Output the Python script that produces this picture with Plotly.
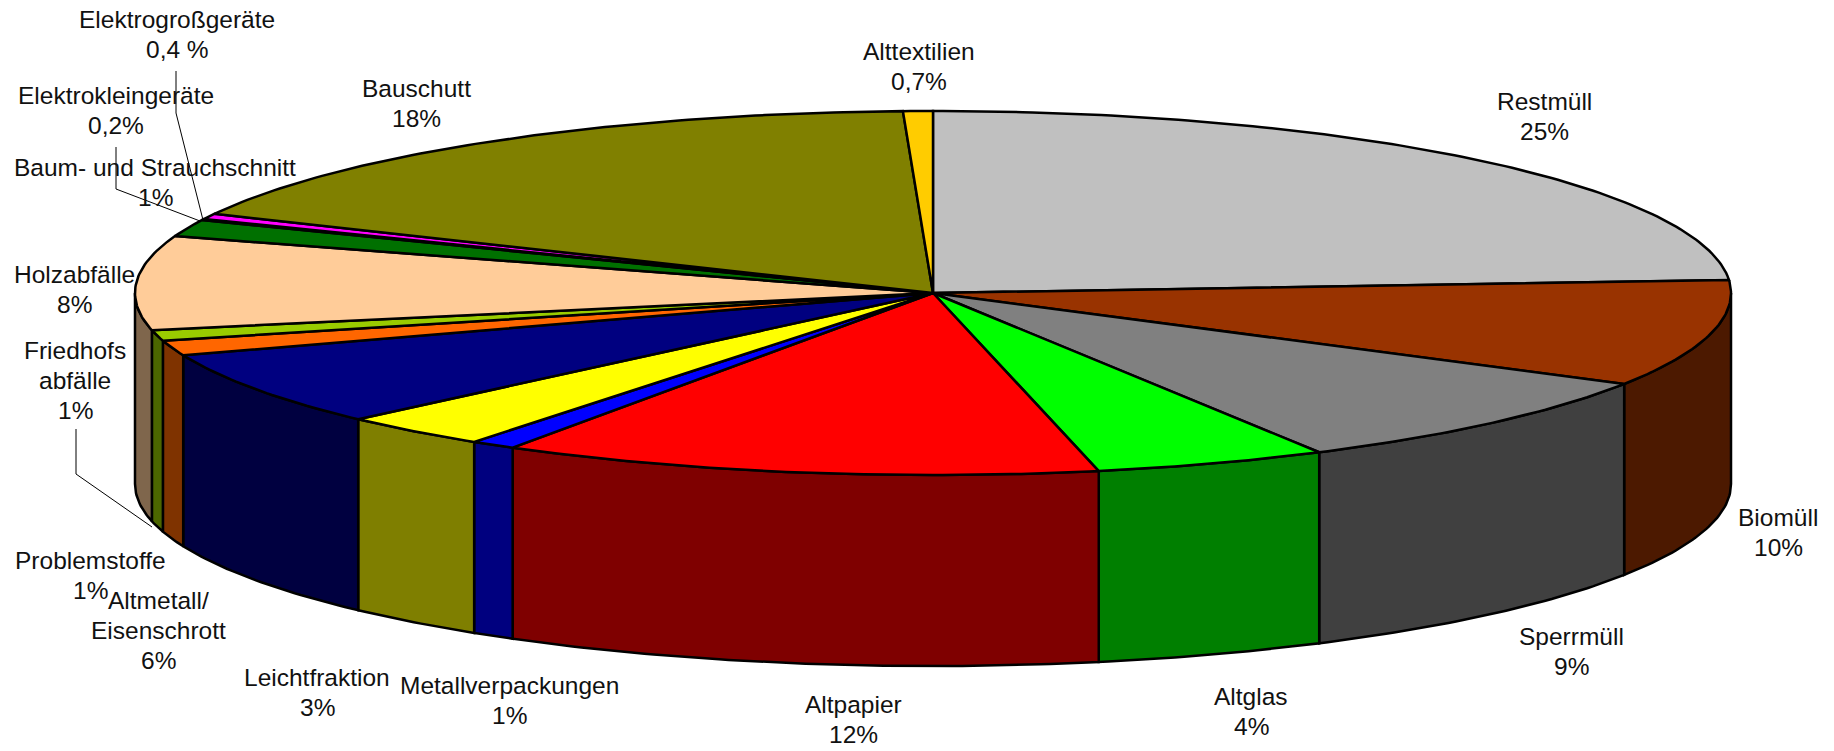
import numpy as np
import plotly.graph_objects as go

categories = ["Restmüll", "Biomüll", "Sperrmüll", "Altglas", "Altpapier", "Metallverpackungen",
              "Leichtfraktion", "Altmetall/Eisenschrott", "Problemstoffe", "Friedhofsabfälle",
              "Holzabfälle", "Baum- und Strauchschnitt", "Elektrokleingeräte", "Elektrogroßgeräte",
              "Bauschutt", "Alttextilien"]
shares = [23.86, 9.47, 8.63, 4.71, 12.16, 0.92, 3.05, 6.64, 1.34, 0.94, 8.34, 1.5, 0.1, 0.5, 17.24, 0.6]
printed = ["25%", "10%", "9%", "4%", "12%", "1%", "3%", "6%", "1%", "1%", "8%", "1%", "0,2%", "0,4 %", "18%", "0,7%"]
label_lines = [["Restmüll"], ["Biomüll"], ["Sperrmüll"], ["Altglas"], ["Altpapier"], ["Metallverpackungen"],
               ["Leichtfraktion"], ["Altmetall/", "Eisenschrott"], ["Problemstoffe"], ["Friedhofs", "abfälle"],
               ["Holzabfälle"], ["Baum- und Strauchschnitt"], ["Elektrokleingeräte"], ["Elektrogroßgeräte"],
               ["Bauschutt"], ["Alttextilien"]]

# Styles
top_colors = ["#C0C0C0", "#993300", "#808080", "#00FF00", "#FF0000", "#0000FF", "#FFFF00", "#000080",
              "#FF6600", "#99CC00", "#FFCC99", "#007000", "#007000", "#FF00FF", "#808000", "#FFCC00"]

# Layout (pixels)
CX, CY, RX, RY, DEPTH = 933, 293, 798, 182, 191
label_x = [1544, 1778, 1571, 1251, 853, 509, 317, 158, 90, 75, 74, 155, 116, 177, 416, 919]
label_y = [101, 517, 636, 696, 704, 685, 677, 600, 560, 350, 274, 167, 95, 19, 88, 51]
LINE_H = 30
leaders = [([176, 176, 203], [71, 113, 220]),
           ([116, 116, 200], [147, 189, 221]),
           ([76, 76, 152], [429, 474, 527])]


def darker(c):
    r, g, b = int(c[1:3], 16), int(c[3:5], 16), int(c[5:7], 16)
    return f"rgb({r // 2},{g // 2},{b // 2})"


def arc(t0, t1, dy=0.0):
    n = max(2, int(abs(t1 - t0) * 80) + 2)
    t = np.linspace(t0, t1, n)
    return CX + RX * np.sin(t), CY - RY * np.cos(t) + dy


bounds = np.cumsum([0] + shares) / sum(shares) * 2 * np.pi
fig = go.Figure()
LINE = dict(color="black", width=2.5)

# side walls (only the front half of the disc is visible)
for i, col in enumerate(top_colors):
    a, b = max(bounds[i], np.pi / 2), min(bounds[i + 1], 3 * np.pi / 2)
    if b <= a:
        continue
    xt, yt = arc(a, b)
    xb, yb = arc(b, a, DEPTH)
    fig.add_trace(go.Scatter(x=np.r_[xt, xb, xt[0]], y=np.r_[yt, yb, yt[0]], mode="lines", fill="toself",
                             fillcolor=darker(col), line=LINE, hoverinfo="skip", showlegend=False))

# top face
for i, col in enumerate(top_colors):
    xa, ya = arc(bounds[i], bounds[i + 1])
    fig.add_trace(go.Scatter(x=np.r_[CX, xa, CX], y=np.r_[CY, ya, CY], mode="lines", fill="toself",
                             fillcolor=col, line=LINE, name=categories[i], hoverinfo="name", showlegend=False))

# leader lines
for lx, ly in leaders:
    fig.add_trace(go.Scatter(x=lx, y=ly, mode="lines", line=dict(color="black", width=1),
                             hoverinfo="skip", showlegend=False))

# labels: one annotation per line so the line spacing follows the reference
for i in range(len(categories)):
    for j, text in enumerate(label_lines[i] + [printed[i]]):
        fig.add_annotation(x=label_x[i], y=label_y[i] + j * LINE_H, text=text, showarrow=False,
                           xanchor="center", yanchor="middle",
                           font=dict(family="Liberation Sans", size=24.5, color="#111111"))

fig.update_layout(width=1834, height=751, margin=dict(l=0, r=0, t=0, b=0), autosize=False,
                  paper_bgcolor="white", plot_bgcolor="white",
                  xaxis=dict(range=[0, 1834], visible=False, fixedrange=True),
                  yaxis=dict(range=[751, 0], visible=False, fixedrange=True))
fig.write_html("out.html", config={"displayModeBar": False},
               post_script="document.body.style.margin='0';document.body.style.overflow='hidden';")
